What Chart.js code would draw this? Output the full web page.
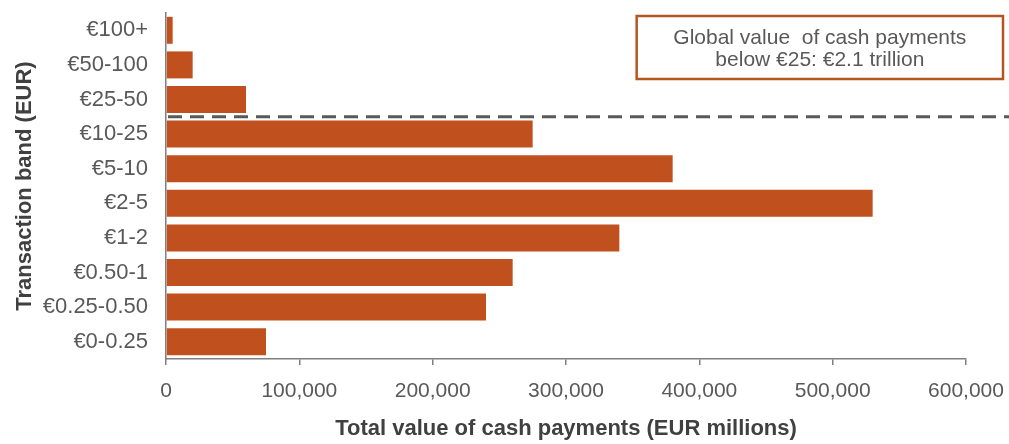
<!DOCTYPE html>
<html>
<head>
<meta charset="utf-8">
<script src="https://cdn.jsdelivr.net/npm/chart.js@4/dist/chart.umd.min.js"></script>
<style>
  html, body { margin: 0; padding: 0; background: #ffffff; }
  #wrap { width: 1009px; height: 444px; position: relative; }
</style>
</head>
<body>
<div id="wrap"><canvas id="chart"></canvas></div>
<script>
// Transaction bands, largest first (top of the chart)
const bands = ['€100+', '€50-100', '€25-50', '€10-25', '€5-10', '€2-5', '€1-2', '€0.50-1', '€0.25-0.50', '€0-0.25'];
// Total value of cash payments per band, EUR millions
const values = [5000, 20000, 60000, 275000, 380000, 530000, 340000, 260000, 240000, 75000];
// Value axis ticks
const xTicks = [0, 100000, 200000, 300000, 400000, 500000, 600000];
// Callout text and the band boundary where the dashed divider sits
const calloutLines = ['Global value  of cash payments', 'below €25: €2.1 trillion'];
const dividerAfter = '€25-50';

const BAR = '#C0511F';
const TEXT = '#595959';
const FONT = "'Liberation Sans', Arial, sans-serif";

// Dashed divider between bands plus the boxed callout
const overlay = {
  id: 'overlay',
  afterDatasetsDraw(chart) {
    const { ctx, chartArea, scales } = chart;
    const i = bands.indexOf(dividerAfter);
    const yDiv = (scales.y.getPixelForValue(i) + scales.y.getPixelForValue(i + 1)) / 2;
    ctx.save();
    ctx.strokeStyle = '#595959';
    ctx.lineWidth = 3;
    ctx.setLineDash([14, 8]);
    ctx.beginPath();
    ctx.moveTo(chartArea.left + 2, yDiv);
    ctx.lineTo(chart.width, yDiv);
    ctx.stroke();
    ctx.setLineDash([]);

    const bx = scales.x.getPixelForValue(353000);
    const bw = chart.width - 6 - bx;
    const by = chartArea.top + 3;
    const bh = 63;
    ctx.strokeStyle = '#B5561F';
    ctx.lineWidth = 2.5;
    ctx.strokeRect(bx, by, bw, bh);
    ctx.fillStyle = TEXT;
    ctx.font = '21px ' + FONT;
    ctx.textAlign = 'center';
    ctx.textBaseline = 'middle';
    ctx.fillText(calloutLines[0], bx + bw / 2, by + 22);
    ctx.fillText(calloutLines[1], bx + bw / 2, by + 44);
    ctx.restore();
  }
};

new Chart(document.getElementById('chart'), {
  type: 'bar',
  data: {
    labels: bands,
    datasets: [{
      data: values,
      backgroundColor: BAR,
      borderWidth: 0,
      barPercentage: 0.78,
      categoryPercentage: 1.0
    }]
  },
  options: {
    indexAxis: 'y',
    responsive: true,
    maintainAspectRatio: false,
    animation: false,
    layout: { padding: { top: 13, right: 43, bottom: 0, left: 0 } },
    plugins: { legend: { display: false }, tooltip: { enabled: false } },
    scales: {
      x: {
        min: 0,
        max: 600000,
        afterBuildTicks(scale) { scale.ticks = xTicks.map(v => ({ value: v })); },
        afterFit(scale) { scale.height = 85; scale.paddingLeft = 0; scale.paddingRight = 0; },
        ticks: {
          color: TEXT,
          font: { family: FONT, size: 21 },
          padding: 14,
          callback: v => Number(v).toLocaleString('en-US')
        },
        grid: { drawOnChartArea: false, drawTicks: true, tickLength: 6, color: '#7f7f7f', lineWidth: 1.5 },
        border: { display: true, color: '#7f7f7f', width: 1.5 },
        title: {
          display: true,
          text: 'Total value of cash payments (EUR millions)',
          color: '#404040',
          font: { family: FONT, size: 22, weight: 'bold' },
          padding: { top: 0, bottom: 2 }
        }
      },
      y: {
        afterFit(scale) { scale.width = 166; scale.paddingTop = 0; scale.paddingBottom = 0; },
        ticks: {
          color: TEXT,
          font: { family: FONT, size: 22 },
          padding: 18
        },
        grid: { drawOnChartArea: false, drawTicks: false },
        border: { display: true, color: '#7f7f7f', width: 1.5 },
        title: {
          display: true,
          text: 'Transaction band (EUR)',
          color: '#404040',
          font: { family: FONT, size: 22, weight: 'bold' },
          padding: { top: 12, bottom: 0 }
        }
      }
    }
  },
  plugins: [overlay]
});
</script>
</body>
</html>
